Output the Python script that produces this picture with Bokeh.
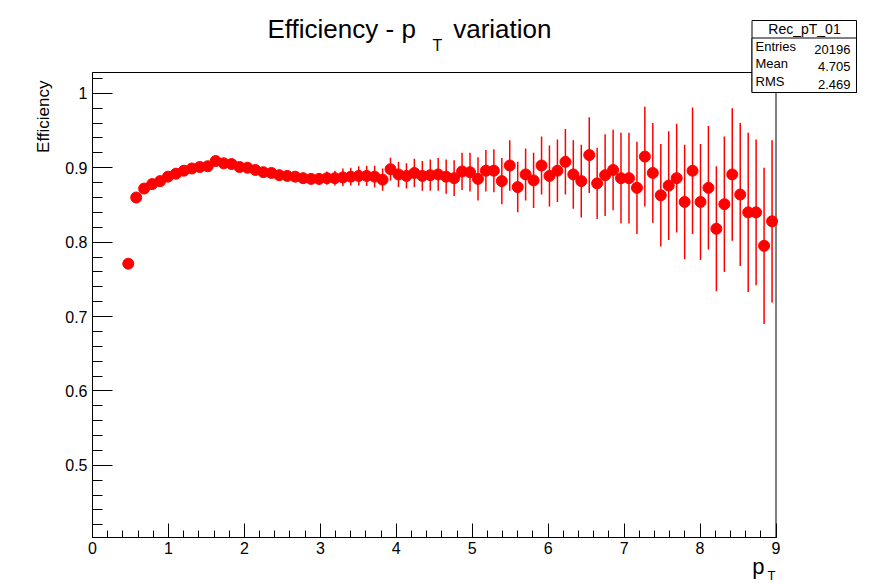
import math
from bokeh.plotting import figure
from bokeh.models import (Range1d, SingleIntervalTicker, CustomJSTickFormatter,
                          Label, BoxAnnotation, LinearAxis)
from bokeh.embed import file_html
from bokeh.resources import INLINE

# ---- data (TEfficiency, 86 bins 0..9 in pT; filled bins only) ----
pt = [0.471, 0.576, 0.680, 0.785, 0.890, 0.994, 1.099, 1.203, 1.308, 1.413,
      1.517, 1.622, 1.727, 1.831, 1.936, 2.041, 2.145, 2.250, 2.355, 2.459,
      2.564, 2.669, 2.773, 2.878, 2.983, 3.087, 3.192, 3.297, 3.401, 3.506,
      3.610, 3.715, 3.820, 3.924, 4.029, 4.134, 4.238, 4.343, 4.448, 4.552,
      4.657, 4.762, 4.866, 4.971, 5.076, 5.180, 5.285, 5.390, 5.494, 5.599,
      5.703, 5.808, 5.913, 6.017, 6.122, 6.227, 6.331, 6.436, 6.541, 6.645,
      6.750, 6.855, 6.959, 7.064, 7.169, 7.273, 7.378, 7.483, 7.587, 7.692,
      7.797, 7.901, 8.006, 8.110, 8.215, 8.320, 8.424, 8.529, 8.634, 8.738,
      8.843, 8.948]
eff = [0.771, 0.860, 0.872, 0.878, 0.882, 0.888, 0.892, 0.896, 0.899, 0.901,
       0.902, 0.909, 0.906, 0.905, 0.901, 0.900, 0.897, 0.894, 0.893, 0.890,
       0.889, 0.888, 0.886, 0.885, 0.885, 0.886, 0.886, 0.887, 0.888, 0.889,
       0.889, 0.888, 0.884, 0.898, 0.891, 0.889, 0.893, 0.889, 0.890, 0.891,
       0.888, 0.886, 0.895, 0.894, 0.885, 0.896, 0.896, 0.882, 0.903, 0.874,
       0.891, 0.883, 0.903, 0.889, 0.896, 0.908, 0.891, 0.882, 0.917, 0.879,
       0.890, 0.897, 0.886, 0.886, 0.873, 0.915, 0.893, 0.863, 0.876, 0.886,
       0.854, 0.896, 0.854, 0.873, 0.818, 0.851, 0.891, 0.864, 0.840, 0.840,
       0.795, 0.828]
err = [0.003, 0.003, 0.003, 0.003, 0.003, 0.003, 0.003, 0.003, 0.003, 0.003,
       0.003, 0.003, 0.004, 0.004, 0.004, 0.004, 0.004, 0.005, 0.005, 0.005,
       0.006, 0.006, 0.007, 0.007, 0.008, 0.009, 0.010, 0.012, 0.012, 0.013,
       0.0135, 0.0146, 0.015, 0.0153, 0.017, 0.017, 0.019, 0.020, 0.021, 0.022,
       0.023, 0.024, 0.025, 0.026, 0.029, 0.028, 0.029, 0.031, 0.034, 0.034,
       0.035, 0.037, 0.039, 0.041, 0.042, 0.044, 0.046, 0.049, 0.051, 0.048,
       0.055, 0.054, 0.061, 0.061, 0.062, 0.067, 0.067, 0.069, 0.073, 0.073,
       0.077, 0.085, 0.078, 0.083, 0.084, 0.091, 0.089, 0.096, 0.107, 0.098,
       0.105, 0.109]

stat_names = ["Entries", "Mean", "RMS"]
stat_values = ["20196", "4.705", "2.469"]
hist_name = "Rec_pT_01"

XMIN, XMAX = 0.0, 9.0
YMIN, YMAX = 0.403, 1.028

W, H = 872, 583
FL, FR, FT, FB = 92, 775.5, 72, 537  # ROOT frame edges in px

SX = (FR - FL) / (XMAX - XMIN)
SY = (FB - FT) / (YMAX - YMIN)

def dx(px):
    return XMIN + (px - FL) / SX

def dy(py):
    return YMIN + (FB - py) / SY

FONT = "Liberation Sans"

# the Bokeh frame covers the whole canvas; the ROOT frame is drawn inside it
p = figure(width=W, height=H, output_backend="svg", toolbar_location=None,
           x_range=Range1d(dx(0), dx(W)), y_range=Range1d(dy(H), dy(0)),
           x_axis_type=None, y_axis_type=None,
           min_border_left=0, min_border_right=0, min_border_top=0,
           min_border_bottom=0)
p.background_fill_color = "white"
p.border_fill_color = "white"
p.outline_line_color = None
p.xgrid.visible = False
p.ygrid.visible = False

# axes, pinned to the ROOT frame
xa = LinearAxis(fixed_location=YMIN, bounds=(XMIN, XMAX),
                ticker=SingleIntervalTicker(interval=1, num_minor_ticks=5))
xa.major_tick_in = 14
xa.major_tick_out = 0
xa.minor_tick_in = 7
xa.minor_tick_out = 0
xa.major_label_standoff = 4
ya = LinearAxis(fixed_location=XMIN, bounds=(YMIN, YMAX),
                ticker=SingleIntervalTicker(interval=0.1, num_minor_ticks=5))
ya.formatter = CustomJSTickFormatter(code="return tick.toFixed(1).replace(/\\.0$/, '');")
ya.major_tick_in = 20
ya.major_tick_out = 0
ya.minor_tick_in = 10
ya.minor_tick_out = 0
ya.major_label_standoff = 5
for a in (xa, ya):
    a.axis_line_color = "black"
    a.major_tick_line_color = "black"
    a.minor_tick_line_color = "black"
    a.major_label_text_font = FONT
    a.major_label_text_font_size = "16px"
    a.major_label_text_color = "black"
p.add_layout(xa, "below")
p.add_layout(ya, "left")

# frame box
p.add_layout(BoxAnnotation(left=XMIN, right=XMAX, bottom=YMIN, top=YMAX,
                           fill_alpha=0, line_color="black", line_alpha=1.0,
                           line_width=1, level="underlay"))

# error bars and points
lo = [v - e for v, e in zip(eff, err)]
hi = [v + e for v, e in zip(eff, err)]
p.segment(x0=pt, y0=lo, x1=pt, y1=hi, line_color="#ff0000", line_width=1.5)
p.scatter(pt, eff, size=11, fill_color="#ff0000", line_color="#ff0000")

def lab(px, base, text, size, align="left"):
    # base: wanted baseline in px from the top
    p.add_layout(Label(x=dx(px), y=dy(base + 0.15 * size), text=text,
                       text_font=FONT, text_font_size=f"{size}px",
                       text_align=align, text_baseline="bottom",
                       text_color="black", level="overlay"))

# title
lab(267, 40, "Efficiency - p", 26)
lab(437, 51, "T", 16, align="center")
lab(551, 40, "variation", 26, align="right")

# axis titles
p.add_layout(Label(x=dx(43), y=dy(80), text="Efficiency", text_font=FONT,
                   text_font_size="17px", text_align="right",
                   text_baseline="middle", angle=math.pi / 2,
                   text_color="black", level="overlay"))
lab(764, 575, "p", 22, align="right")
lab(771, 581, "T", 13, align="center")

# stats box
for top in (20, 37.5):
    p.add_layout(BoxAnnotation(left=dx(751.5), right=dx(856), top=dy(top), bottom=dy(92),
                               fill_color="white", fill_alpha=1.0, line_color="black",
                               line_alpha=1.0, line_width=1, level="overlay"))
lab(804, 34, hist_name, 14, align="center")
for k, (nm, vv) in enumerate(zip(stat_names, stat_values)):
    yy = 51.5 + 17.5 * k
    lab(755, yy, nm, 13)
    lab(850, yy, vv, 13, align="right")

open("out.html", "w").write(file_html(p, INLINE))
